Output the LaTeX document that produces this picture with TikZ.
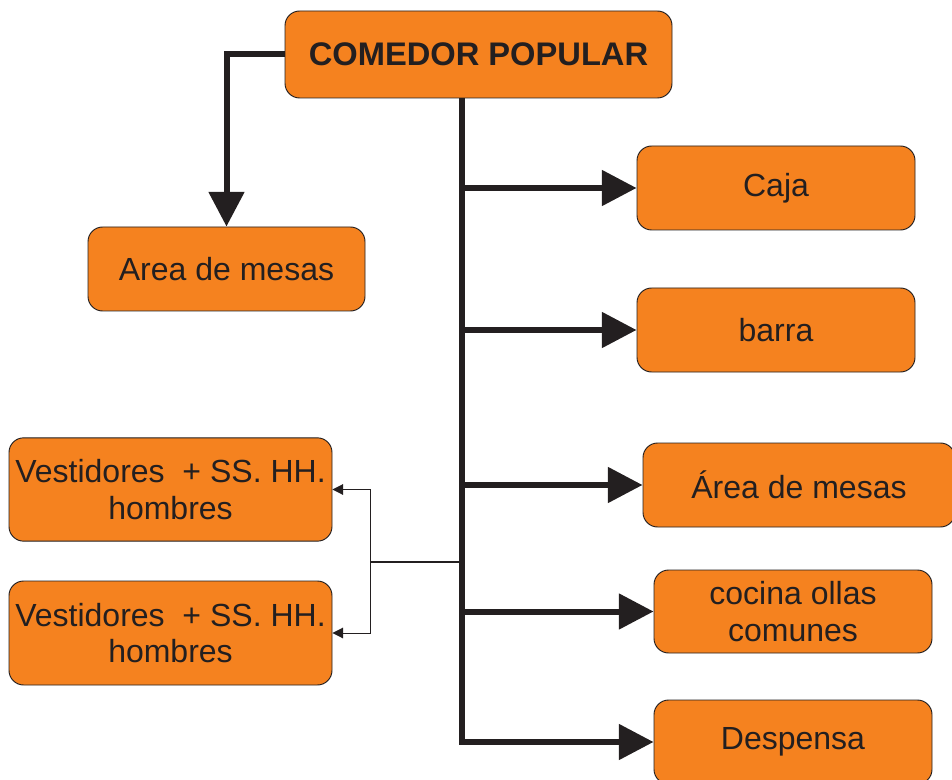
\documentclass[tikz,border=0pt]{standalone}
\usepackage{fontspec}
\setmainfont{Liberation Sans}
\usepackage{xcolor}
\usetikzlibrary{
    positioning,
    arrows.meta
}
\definecolor{boxorange}{HTML}{F5821F}
\definecolor{inkgray}{HTML}{231F20}

\begin{document}
\begin{tikzpicture}[
    x=0.75pt, y=-0.75pt,
    box/.style={
        rectangle,
        rounded corners=11pt,
        draw=inkgray,
        line width=0.7pt,
        fill=boxorange,
        text=inkgray,
        align=center,
        inner sep=0pt,
        font=\fontsize{24}{27.5}\selectfont,
        minimum width=208.5pt,
        minimum height=63pt
    },
    arrow/.style={-{Triangle[length=26pt, width=26pt]}, line width=4.5pt, draw=inkgray},
    thinarrow/.style={-{Triangle[length=8pt, width=8pt]}, line width=0.75pt, draw=inkgray}
]
\useasboundingbox (0,0) rectangle (952,780);

\node[box, minimum width=290.25pt, minimum height=65.25pt,
      font=\fontsize{24.5}{28}\selectfont\bfseries] (comedor) at (478.5,54.5) {COMEDOR POPULAR};
\node[box, minimum width=207.75pt] (mesas) at (226.5,269) {Area de mesas};
\node[box] (caja) at (776,188) {Caja};
\node[box] (barra) at (776,330) {barra};
\node[box, minimum width=234pt] (mesas2) at (799,485) {Área de mesas};
\node[box, minimum height=62.25pt] (cocina) at (793,611.5) {cocina ollas\\comunes};
\node[box] (despensa) at (793,742) {Despensa};
\node[box, minimum width=242.25pt, minimum height=77.5pt] (vest1) at (170.5,489.5) {Vestidores \ + SS. HH.\\hombres};
\node[box, minimum width=242.25pt, minimum height=78pt] (vest2) at (170.5,633) {Vestidores \ + SS. HH.\\hombres};

\coordinate (trunk) at (462,742);
\coordinate (split) at (370,562);

\draw[arrow] (comedor.west) -| (mesas.north);
\draw[arrow] (comedor.south -| trunk) |- (despensa.west);
\draw[arrow] (trunk |- caja.west) -- (caja.west);
\draw[arrow] (trunk |- barra.west) -- (barra.west);
\draw[arrow] (trunk |- mesas2.west) -- (mesas2.west);
\draw[arrow] (trunk |- cocina.west) -- (cocina.west);

\draw[line width=1.5pt, draw=inkgray] (trunk |- split) -- (split);
\draw[thinarrow] (split) |- (vest1.east);
\draw[thinarrow] (split) |- (vest2.east);

\end{tikzpicture}
\end{document}
